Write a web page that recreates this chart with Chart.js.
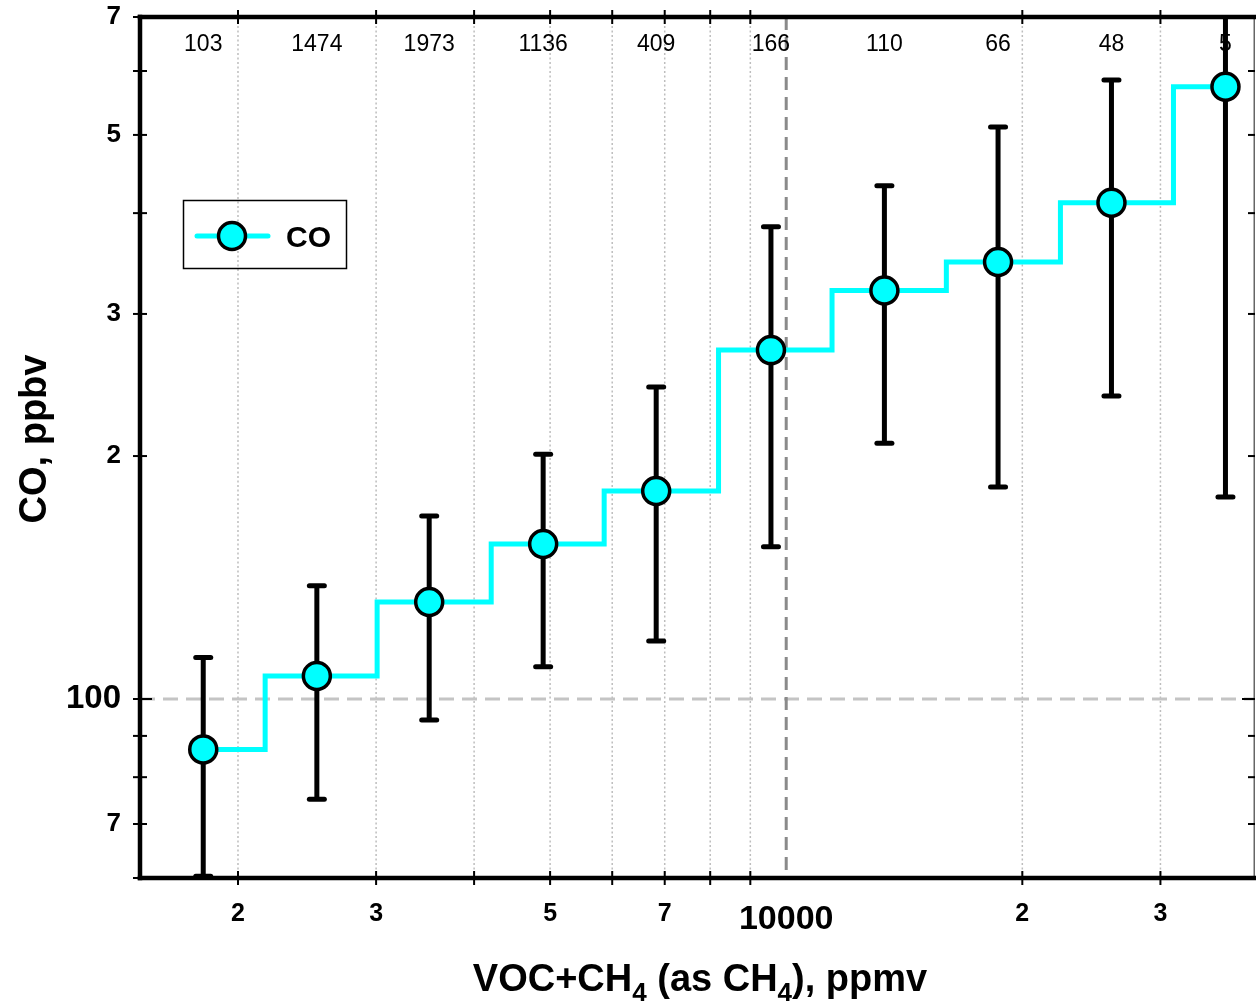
<!DOCTYPE html>
<html>
<head>
<meta charset="utf-8">
<script src="https://cdn.jsdelivr.net/npm/chart.js@4"></script>
<style>
  html, body { margin: 0; padding: 0; background: #fff; }
  #wrap { width: 1256px; height: 1004px; }
</style>
</head>
<body>
<div id="wrap"><canvas id="chart" width="1256" height="1004"></canvas></div>
<script>
const FONT = "'Liberation Sans', Arial, Helvetica, sans-serif";

// bin centres (VOC+CH4, ppmv) and CO statistics per bin (ppbv)
const vocCentres = [1806, 2521, 3506, 4899, 6827, 9562, 13341, 18625, 25983, 36311];
const binEdges = [2166, 3009, 4206, 5860, 8198, 11440, 16002, 22368, 31171];
const coMean = [86.6, 106.8, 131.9, 155.6, 181.0, 270.6, 320.7, 347.9, 412.1, 573.7];
const coLow = [60.3, 75.1, 94.2, 109.6, 118.0, 154.4, 207.5, 183.1, 237.4, 177.9];
const coHigh = [112.6, 138.1, 168.6, 201.1, 243.6, 384.8, 432.6, 511.5, 584.8, 780];
const sampleCounts = [103, 1474, 1973, 1136, 409, 166, 110, 66, 48, 5];

const xTickValues = [2000, 3000, 4000, 5000, 6000, 7000, 8000, 9000, 10000, 20000, 30000];
const xTickLabels = ['2', '3', '', '5', '', '7', '', '', '10000', '2', '3'];
const yTickValues = [60, 70, 80, 90, 100, 200, 300, 400, 500, 600, 700];
const yTickLabels = ['', '7', '', '', '100', '2', '3', '', '5', '', '7'];
const xRef = 10000;
const yRef = 100;

const CYAN = '#00FFFF';

function line(ctx, x1, y1, x2, y2) {
    ctx.beginPath();
    ctx.moveTo(x1, y1);
    ctx.lineTo(x2, y2);
    ctx.stroke();
}

// step line: horizontal to each bin edge, then jump to next bin's mean
const stepPoints = [{ x: vocCentres[0], y: coMean[0] }];
binEdges.forEach((e, i) => stepPoints.push({ x: e, y: coMean[i + 1] }));
stepPoints.push({ x: vocCentres[vocCentres.length - 1], y: coMean[coMean.length - 1] });

const markerPoints = vocCentres.map((v, i) => ({ x: v, y: coMean[i] }));

// grid lines and reference lines behind the data
const backdrop = {
    id: 'backdrop',
    beforeDatasetsDraw(chart) {
        const { ctx, chartArea: a, scales: { x, y } } = chart;
        ctx.save();
        ctx.beginPath();
        ctx.rect(a.left, a.top, a.right - a.left, a.bottom - a.top);
        ctx.clip();

        ctx.strokeStyle = '#bdbdbd';
        ctx.lineWidth = 1.5;
        ctx.setLineDash([2, 2.5]);
        xTickValues.forEach(v => {
            if (v === xRef) return;
            const px = x.getPixelForValue(v);
            line(ctx, px, a.top, px, a.bottom);
        });

        ctx.strokeStyle = '#c4c4c4';
        ctx.lineWidth = 3;
        ctx.setLineDash([15, 8]);
        const py = y.getPixelForValue(yRef);
        line(ctx, a.left, py, a.right, py);

        ctx.strokeStyle = '#8a8a8a';
        ctx.lineWidth = 3;
        ctx.setLineDash([13, 7]);
        const pr = x.getPixelForValue(xRef);
        line(ctx, pr, a.top, pr, a.bottom);
        ctx.restore();
    }
};

// error bars, drawn just before the markers
const errorBars = {
    id: 'errorBars',
    beforeDatasetDraw(chart, args) {
        if (args.index !== 0) return;
        const { ctx, chartArea: a, scales: { x, y } } = chart;
        ctx.save();
        ctx.beginPath();
        ctx.rect(a.left, a.top - 2, a.right - a.left, a.bottom - a.top + 2);
        ctx.clip();
        ctx.strokeStyle = '#000';
        ctx.lineWidth = 5;
        vocCentres.forEach((v, i) => {
            const px = x.getPixelForValue(v);
            const top = y.getPixelForValue(coHigh[i]);
            const bot = y.getPixelForValue(coLow[i]);
            ctx.lineCap = 'butt';
            line(ctx, px, top, px, bot);
            ctx.lineCap = 'round';
            line(ctx, px - 7.5, top, px + 7.5, top);
            line(ctx, px - 7.5, bot, px + 7.5, bot);
        });
        ctx.restore();
    }
};

// axis frame, tick marks, sample counts, legend and axis titles
const frame = {
    id: 'frame',
    afterDatasetsDraw(chart) {
        const { ctx, chartArea: a, scales: { x, y } } = chart;
        ctx.save();
        ctx.strokeStyle = '#000';
        ctx.lineCap = 'butt';

        // right border, thin
        ctx.strokeStyle = '#666';
        ctx.lineWidth = 1.5;
        line(ctx, a.right - 0.75, a.top, a.right - 0.75, a.bottom);

        ctx.strokeStyle = '#000';
        ctx.lineWidth = 2;
        yTickValues.forEach(v => {
            const py = y.getPixelForValue(v);
            const major = v === yRef;
            line(ctx, a.left - 7, py, a.left + (major ? 12 : 7), py);
            line(ctx, a.right, py, a.right - (major ? 13 : 7), py);
        });
        xTickValues.forEach(v => {
            if (v === xRef) return;
            const px = x.getPixelForValue(v);
            line(ctx, px, a.bottom - 7, px, a.bottom + 7);
            line(ctx, px, a.top - 7, px, a.top + 7);
        });

        ctx.lineWidth = 4.5;
        ctx.lineCap = 'square';
        line(ctx, a.left, a.top, a.left, a.bottom);
        line(ctx, a.left, a.bottom, a.right + 2, a.bottom);
        line(ctx, a.left, a.top, a.right + 2, a.top);

        // sample counts per bin
        ctx.fillStyle = '#000';
        ctx.font = '23px ' + FONT;
        ctx.textAlign = 'center';
        ctx.textBaseline = 'middle';
        vocCentres.forEach((v, i) => {
            ctx.fillText(String(sampleCounts[i]), x.getPixelForValue(v), a.top + 28);
        });

        // legend
        ctx.lineCap = 'butt';
        ctx.lineWidth = 1.5;
        ctx.strokeRect(183.5, 200.5, 163, 68);
        ctx.strokeStyle = CYAN;
        ctx.lineWidth = 5;
        ctx.lineCap = 'round';
        line(ctx, 197, 236, 268, 236);
        ctx.beginPath();
        ctx.arc(232, 236, 13.5, 0, Math.PI * 2);
        ctx.fillStyle = CYAN;
        ctx.fill();
        ctx.strokeStyle = '#000';
        ctx.lineWidth = 3.5;
        ctx.stroke();
        ctx.fillStyle = '#000';
        ctx.font = 'bold 30px ' + FONT;
        ctx.textAlign = 'left';
        ctx.textBaseline = 'alphabetic';
        ctx.fillText('CO', 286, 247);

        // y title
        ctx.save();
        ctx.translate(46, 439);
        ctx.rotate(-Math.PI / 2);
        ctx.font = 'bold 38px ' + FONT;
        ctx.textAlign = 'center';
        ctx.fillText('CO, ppbv', 0, 0);
        ctx.restore();

        // x title with subscripts
        const parts = [['VOC+CH', false], ['4', true], [' (as CH', false], ['4', true], ['), ppmv', false]];
        const big = 'bold 38px ' + FONT;
        const small = 'bold 26px ' + FONT;
        let total = 0;
        parts.forEach(([t, sub]) => { ctx.font = sub ? small : big; total += ctx.measureText(t).width; });
        let cx = 700 - total / 2;
        ctx.textAlign = 'left';
        parts.forEach(([t, sub]) => {
            ctx.font = sub ? small : big;
            ctx.fillText(t, cx, sub ? 1001 : 991);
            cx += ctx.measureText(t).width;
        });
        ctx.restore();
    }
};

// tick marks themselves are drawn by the frame plugin; the library's
// (invisible) tick length only sets the label offset
const hiddenTicks = len => ({
    display: true,
    drawOnChartArea: false,
    drawTicks: true,
    tickLength: len,
    tickColor: 'rgba(0,0,0,0)'
});

new Chart(document.getElementById('chart'), {
    type: 'scatter',
    data: {
        datasets: [
            {
                type: 'scatter',
                label: 'CO',
                data: markerPoints,
                pointRadius: 13.5,
                pointHoverRadius: 13.5,
                backgroundColor: CYAN,
                borderColor: '#000',
                borderWidth: 3.5,
                order: 0,
                clip: false
            },
            {
                type: 'line',
                label: 'step',
                data: stepPoints,
                stepped: true,
                borderColor: CYAN,
                borderWidth: 5,
                borderJoinStyle: 'miter',
                pointRadius: 0,
                fill: false,
                order: 1
            }
        ]
    },
    options: {
        responsive: false,
        animation: false,
        events: [],
        layout: { autoPadding: false, padding: { top: 17, right: 1, left: 0, bottom: 0 } },
        plugins: {
            legend: { display: false },
            tooltip: { enabled: false }
        },
        scales: {
            x: {
                type: 'logarithmic',
                position: 'bottom',
                min: 1500,
                max: 39600,
                grid: hiddenTicks(21),
                border: { display: false },
                afterBuildTicks: scale => { scale.ticks = xTickValues.map(v => ({ value: v })); },
                afterFit: scale => { scale.height = 126; },
                ticks: {
                    autoSkip: false,
                    maxRotation: 0,
                    padding: 0,
                    color: '#000',
                    callback: (value, index) => xTickLabels[index],
                    font: ctx => ({
                        family: FONT,
                        weight: 'bold',
                        size: ctx.tick && ctx.tick.value === xRef ? 34 : 25
                    })
                }
            },
            y: {
                type: 'logarithmic',
                position: 'left',
                min: 60,
                max: 700,
                grid: hiddenTicks(19),
                border: { display: false },
                afterBuildTicks: scale => { scale.ticks = yTickValues.map(v => ({ value: v })); },
                afterFit: scale => { scale.width = 140; },
                ticks: {
                    autoSkip: false,
                    padding: 0,
                    color: '#000',
                    callback: (value, index) => yTickLabels[index],
                    font: ctx => ({
                        family: FONT,
                        weight: 'bold',
                        size: ctx.tick && ctx.tick.value === yRef ? 33 : 26
                    })
                }
            }
        }
    },
    plugins: [backdrop, errorBars, frame]
});
</script>
</body>
</html>
